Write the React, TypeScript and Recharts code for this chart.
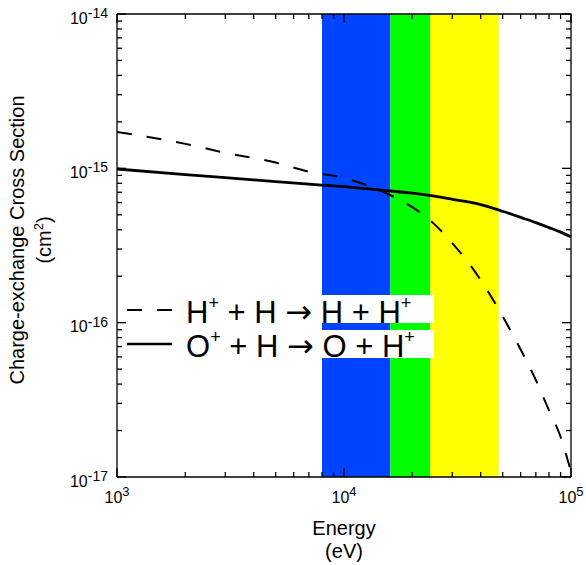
import React from 'react';
import { ComposedChart, Line, XAxis, YAxis, ReferenceArea } from 'recharts';

// energy grid (eV) and cross sections (cm^2)
const energy = [1000, 2000, 3000, 5000, 7000, 10000, 15000, 20000, 25000, 30000, 40000, 50000, 60000, 70000, 80000, 90000, 100000];
const hPlusH = [1.72e-15, 1.44e-15, 1.26e-15, 1.09e-15, 0.95e-15, 0.865e-15, 0.7e-15, 0.56e-15, 0.435e-15, 0.328e-15, 0.189e-15, 0.11e-15, 6.7e-17, 4.25e-17, 2.7e-17, 1.82e-17, 1.08e-17];
const oPlusH = [0.99e-15, 0.91e-15, 0.87e-15, 0.82e-15, 0.79e-15, 0.76e-15, 0.72e-15, 0.69e-15, 0.66e-15, 0.63e-15, 0.582e-15, 0.527e-15, 0.481e-15, 0.445e-15, 0.413e-15, 0.386e-15, 0.36e-15];

// energy bands
const bands = [
  { from: 8000, to: 16000, color: '#0044ff' },
  { from: 16000, to: 24000, color: '#00ff00' },
  { from: 24000, to: 48000, color: '#ffff00' },
];

const X_MIN = 1000;
const X_MAX = 100000;
const Y_MIN = 1e-17;
const Y_MAX = 1e-14;

const xTicks = [
  1000, 2000, 3000, 4000, 5000, 6000, 7000, 8000, 9000,
  10000, 20000, 30000, 40000, 50000, 60000, 70000, 80000, 90000,
  100000,
];
const yTicks = [
  1e-17, 2e-17, 3e-17, 4e-17, 5e-17, 6e-17, 7e-17, 8e-17, 9e-17,
  1e-16, 2e-16, 3e-16, 4e-16, 5e-16, 6e-16, 7e-16, 8e-16, 9e-16,
  1e-15, 2e-15, 3e-15, 4e-15, 5e-15, 6e-15, 7e-15, 8e-15, 9e-15,
  1e-14,
];

const data = energy.map((e, i) => ({ e, hPlusH: hPlusH[i], oPlusH: oPlusH[i] }));

// helper series for the box and its inward tick marks
const frameData = [
  { e: X_MIN, v: Y_MAX },
  { e: X_MAX, v: Y_MAX },
  { e: X_MAX, v: Y_MIN },
];
const bottomTickData = xTicks.map((e) => ({ e, v: Y_MIN }));
const topTickData = xTicks.map((e) => ({ e, v: Y_MAX }));
const leftTickData = yTicks.map((v) => ({ e: X_MIN, v }));
const rightTickData = yTicks.map((v) => ({ e: X_MAX, v }));

const FONT = '"Liberation Sans", Arial, Helvetica, sans-serif';
const ARROW_FONT = '"DejaVu Sans", sans-serif';
const W = 586;
const H = 565;
const M_TOP = 14;
const M_RIGHT = 15;
const X_AXIS_H = 88;
const Y_AXIS_W = 117;
const PLOT_W = W - Y_AXIS_W - M_RIGHT;
const PLOT_H = H - M_TOP - X_AXIS_H;
const MAJOR = 9;
const MINOR = 5;
const TICK_W = 1.3;

const expOf = (v: number) => Math.round(Math.log10(v));
const isMajor = (v: number) => Math.abs(Math.log10(v) - expOf(v)) < 1e-6;

// tick mark drawn at a helper point; dir says which way it points
const tickDot = (dir: 'up' | 'down' | 'left' | 'right', key: 'e' | 'v') => (p: any) => {
  const { cx, cy, payload, index } = p;
  if (cx == null || cy == null) return <g key={index} />;
  const len = isMajor(payload[key]) ? MAJOR : MINOR;
  const dx = dir === 'right' ? len : dir === 'left' ? -len : 0;
  const dy = dir === 'down' ? len : dir === 'up' ? -len : 0;
  return <line key={index} x1={cx} y1={cy} x2={cx + dx} y2={cy + dy} stroke="#000" strokeWidth={TICK_W} />;
};

const BottomLabel = ({ x, y, payload }: any) => {
  const v = payload.value;
  if (!isMajor(v)) return <g />;
  return (
    <text x={x} y={y + 26} textAnchor="middle" fontSize={16} fontFamily={FONT} fill="#000">
      10<tspan dy={-7} fontSize={13}>{expOf(v)}</tspan>
    </text>
  );
};

const LeftLabel = ({ x, y, payload }: any) => {
  const v = payload.value;
  if (!isMajor(v)) return <g />;
  return (
    <text x={x - 9} y={y + 9.5} textAnchor="end" fontSize={16} fontFamily={FONT} fill="#000">
      10<tspan dy={-5.5} fontSize={14}>{expOf(v)}</tspan>
    </text>
  );
};

const Reaction = ({ x, y, a, b }: { x: number; y: number; a: string; b: string }) => (
  <text x={x} y={y} fontSize={31} fontFamily={FONT} fill="#000">
    {a}<tspan dy={-14} fontSize={18}>+</tspan>
    <tspan dy={14}> + H </tspan>
    <tspan fontFamily={ARROW_FONT} fontSize={32}>→</tspan>
    <tspan> {b} + H</tspan>
    <tspan dy={-14} fontSize={18}>+</tspan>
  </text>
);

// titles and the key, laid over the chart
const Overlay = () => {
  const cx = Y_AXIS_W + PLOT_W / 2;
  const by = M_TOP + PLOT_H;
  const cy = 240;
  return (
    <svg width={W} height={H} style={{ position: 'absolute', left: 0, top: 0, pointerEvents: 'none' }}>
      <text textAnchor="middle" fontSize={20} fontFamily={FONT} fill="#000">
        <tspan x={cx} y={by + 57.5}>Energy</tspan>
        <tspan x={cx} y={by + 80.5}>(eV)</tspan>
      </text>
      <g fontSize={20} fontFamily={FONT} fill="#000">
        <text transform={`translate(24, ${cy}) rotate(-90)`} textAnchor="middle">
          Charge-exchange Cross Section
        </text>
        <text transform={`translate(51, ${cy}) rotate(-90)`} textAnchor="middle">
          (cm<tspan dy={-8} fontSize={13}>2</tspan><tspan dy={8}>)</tspan>
        </text>
      </g>
      <g transform="translate(120, 290)">
        <rect x={60} y={5} width={254} height={28} fill="#fff" />
        <rect x={60} y={40} width={254} height={28} fill="#fff" />
        <line x1={7} x2={52} y1={20} y2={20} stroke="#000" strokeWidth={2} strokeDasharray="15 15" />
        <line x1={7} x2={52} y1={54} y2={54} stroke="#000" strokeWidth={2.5} />
        <Reaction x={66} y={33} a="H" b="H" />
        <Reaction x={66} y={67} a="O" b="O" />
      </g>
    </svg>
  );
};

const axisLine = { stroke: '#000', strokeWidth: TICK_W };

const helper = {
  xAxisId: 'b',
  yAxisId: 'l',
  dataKey: 'v',
  type: 'linear' as const,
  stroke: 'none',
  activeDot: false,
  isAnimationActive: false,
  legendType: 'none' as const,
};

export default function App() {
  return (
    <div style={{ position: 'absolute', left: 0, top: 0, width: W, height: H, background: '#fff' }}>
      <ComposedChart width={W} height={H} data={data} margin={{ top: M_TOP, right: M_RIGHT, left: 0, bottom: 0 }}>
        {bands.map((b) => (
          <ReferenceArea
            key={b.from}
            xAxisId="b"
            yAxisId="l"
            x1={b.from}
            x2={b.to}
            fill={b.color}
            fillOpacity={1}
            stroke="none"
          />
        ))}
        <XAxis
          xAxisId="b"
          dataKey="e"
          type="number"
          scale="log"
          domain={[X_MIN, X_MAX]}
          ticks={xTicks}
          interval={0}
          tick={(p: any) => <BottomLabel {...p} />}
          tickLine={false}
          tickSize={0}
          tickMargin={0}
          height={X_AXIS_H}
          axisLine={axisLine}
        />
        <YAxis
          yAxisId="l"
          type="number"
          scale="log"
          domain={[Y_MIN, Y_MAX]}
          ticks={yTicks}
          interval={0}
          tick={(p: any) => <LeftLabel {...p} />}
          tickLine={false}
          tickSize={0}
          tickMargin={0}
          width={Y_AXIS_W}
          axisLine={axisLine}
        />
        <Line
          xAxisId="b"
          yAxisId="l"
          type="monotone"
          dataKey="hPlusH"
          stroke="#000"
          strokeWidth={2}
          strokeDasharray="15 15"
          dot={false}
          activeDot={false}
          isAnimationActive={false}
        />
        <Line
          xAxisId="b"
          yAxisId="l"
          type="monotone"
          dataKey="oPlusH"
          stroke="#000"
          strokeWidth={2.8}
          dot={false}
          activeDot={false}
          isAnimationActive={false}
        />
        {/* box edges and inward ticks */}
        <Line {...helper} data={frameData} stroke="#000" strokeWidth={TICK_W} dot={false} />
        <Line {...helper} data={bottomTickData} dot={tickDot('up', 'e')} />
        <Line {...helper} data={topTickData} dot={tickDot('down', 'e')} />
        <Line {...helper} data={leftTickData} dot={tickDot('right', 'v')} />
        <Line {...helper} data={rightTickData} dot={tickDot('left', 'v')} />
      </ComposedChart>
      <Overlay />
    </div>
  );
}
